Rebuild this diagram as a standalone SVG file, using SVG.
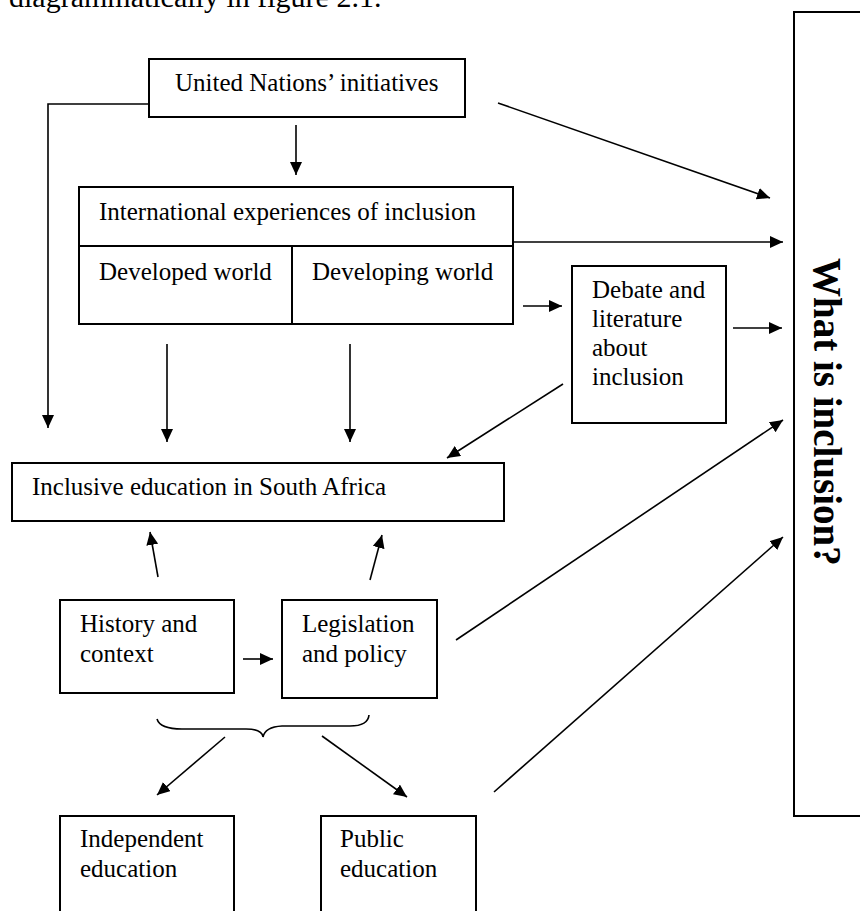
<svg xmlns="http://www.w3.org/2000/svg" width="860" height="911" viewBox="0 0 860 911">
<style>
.box{fill:#fff;stroke:#000;stroke-width:2}
.t{font-family:"Liberation Serif","Times New Roman",serif;font-size:25px;fill:#000}
.c{fill:none;stroke:#000;stroke-width:1.6}
</style>
<defs>
<marker id="ah" viewBox="0 0 13 12" refX="13" refY="6" markerWidth="13" markerHeight="12" markerUnits="userSpaceOnUse" orient="auto">
<path d="M0,0 L13,6 L0,12 z" fill="#000"/>
</marker>
</defs>
<rect width="860" height="911" fill="#fff"/>
<text x="9" y="7" font-family="Liberation Serif, serif" font-size="30" fill="#000">diagrammatically in figure 2.1.</text>

<g id="connectors">
<polyline class="c" points="149,104 48,104 48,428" marker-end="url(#ah)"/>
<line class="c" x1="296" y1="125" x2="296" y2="175" marker-end="url(#ah)"/>
<line class="c" x1="498" y1="103" x2="770" y2="198" marker-end="url(#ah)"/>
<line class="c" x1="513" y1="242" x2="783" y2="242" marker-end="url(#ah)"/>
<line class="c" x1="167" y1="344" x2="167" y2="442" marker-end="url(#ah)"/>
<line class="c" x1="350" y1="344" x2="350" y2="442" marker-end="url(#ah)"/>
<line class="c" x1="523" y1="306" x2="562" y2="306" marker-end="url(#ah)"/>
<line class="c" x1="733" y1="328" x2="782" y2="328" marker-end="url(#ah)"/>
<line class="c" x1="563" y1="384" x2="447" y2="458" marker-end="url(#ah)"/>
<line class="c" x1="158" y1="577" x2="150" y2="532" marker-end="url(#ah)"/>
<line class="c" x1="370" y1="580" x2="382" y2="535" marker-end="url(#ah)"/>
<line class="c" x1="243" y1="659" x2="273" y2="659" marker-end="url(#ah)"/>
<line class="c" x1="456" y1="640" x2="783" y2="420" marker-end="url(#ah)"/>
<line class="c" x1="494" y1="792" x2="783" y2="537" marker-end="url(#ah)"/>
<line class="c" x1="225" y1="737" x2="157" y2="795" marker-end="url(#ah)"/>
<line class="c" x1="322" y1="736" x2="407" y2="797" marker-end="url(#ah)"/>
<path class="c" d="M157,719 Q160,729 182,729 L246,729 Q262,729 263,737 Q265,727 282,726 L350,726 Q368,726 369,715"/>
</g>

<g id="un">
<rect class="box" x="149" y="59" width="316" height="58"/>
<text class="t" x="175" y="91">United Nations’ initiatives</text>
</g>
<g id="international">
<rect class="box" x="79" y="187" width="434" height="137"/>
<line x1="79" y1="246" x2="513" y2="246" stroke="#000" stroke-width="2"/>
<line x1="292" y1="246" x2="292" y2="324" stroke="#000" stroke-width="2"/>
<text class="t" x="99" y="220">International experiences of inclusion</text>
<text class="t" x="99" y="280">Developed world</text>
<text class="t" x="312" y="280">Developing world</text>
</g>
<g id="debate">
<rect class="box" x="572" y="266" width="154" height="157"/>
<text class="t" x="592" y="298">Debate and</text>
<text class="t" x="592" y="327">literature</text>
<text class="t" x="592" y="356">about</text>
<text class="t" x="592" y="385">inclusion</text>
</g>
<g id="what">
<rect class="box" x="794" y="12" width="80" height="804"/>
<text x="814" y="258" transform="rotate(90 814 258)" font-family="Liberation Serif, serif" font-size="39" font-weight="bold" fill="#000">What is inclusion?</text>
</g>
<g id="inclusive">
<rect class="box" x="12" y="463" width="492" height="58"/>
<text class="t" x="32" y="495">Inclusive education in South Africa</text>
</g>
<g id="history">
<rect class="box" x="60" y="600" width="174" height="93"/>
<text class="t" x="80" y="632">History and</text>
<text class="t" x="80" y="662">context</text>
</g>
<g id="legislation">
<rect class="box" x="282" y="600" width="155" height="98"/>
<text class="t" x="302" y="632">Legislation</text>
<text class="t" x="302" y="662">and policy</text>
</g>
<g id="independent">
<rect class="box" x="60" y="816" width="174" height="110"/>
<text class="t" x="80" y="847">Independent</text>
<text class="t" x="80" y="877">education</text>
</g>
<g id="public">
<rect class="box" x="321" y="816" width="155" height="110"/>
<text class="t" x="340" y="847">Public</text>
<text class="t" x="340" y="877">education</text>
</g>
</svg>
